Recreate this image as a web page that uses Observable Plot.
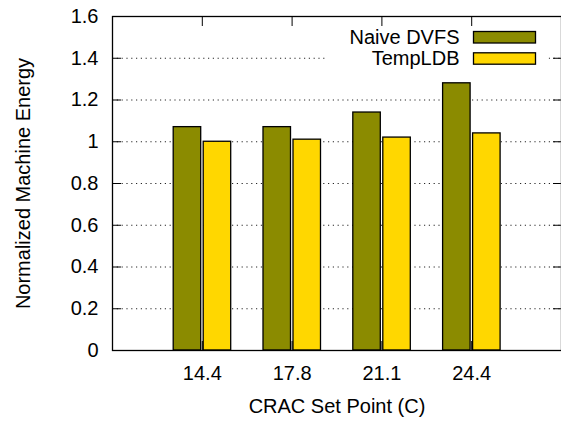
<!DOCTYPE html>
<html>
<head>
<meta charset="utf-8">
<script src="https://cdn.jsdelivr.net/npm/d3@7"></script>
<script src="https://cdn.jsdelivr.net/npm/@observablehq/plot@0.6"></script>
<style>
  html, body { margin: 0; padding: 0; background: #fff; }
  #chart svg { display: block; }
</style>
</head>
<body>
<div id="chart"></div>
<script>
// ---- data ----
const categories = ["14.4", "17.8", "21.1", "24.4"];
const seriesNames = ["Naive DVFS", "TempLDB"];
const naiveDVFS = [1.07, 1.07, 1.14, 1.28];
const tempLDB = [1.00, 1.01, 1.02, 1.04];
const yTicks = [0, 0.2, 0.4, 0.6, 0.8, 1, 1.2, 1.4, 1.6];
const yTickLabels = ["0", "0.2", "0.4", "0.6", "0.8", "1", "1.2", "1.4", "1.6"];
const gridValues = [0.2, 0.4, 0.6, 0.8, 1, 1.2, 1.4];
const xLabel = "CRAC Set Point (C)";
const yLabel = "Normalized Machine Energy";
const colors = ["#8b8b00", "#ffd700"];

const naiveData = categories.map((c, i) => ({cat: c, value: naiveDVFS[i]}));
const tempData = categories.map((c, i) => ({cat: c, value: tempLDB[i]}));

const fontSize = 20;
const fmt = d => yTickLabels[yTicks.indexOf(d)] ?? String(d);

const chart = Plot.plot({
  width: 561,
  height: 421,
  marginLeft: 112,
  marginRight: 0,
  marginTop: 16,
  marginBottom: 71,
  style: {fontFamily: "'Liberation Sans', Arial, Helvetica, sans-serif", fontSize: fontSize + "px", color: "#000", background: "#fff"},
  x: {type: "band", domain: categories, paddingInner: 0, paddingOuter: 0.5, round: false, axis: null},
  y: {domain: [0, 1.6], axis: null},
  marks: [
    // dotted grid
    Plot.ruleY(gridValues, {stroke: "#000", strokeWidth: 1, strokeDasharray: "1.2,3.6", strokeOpacity: 0.85}),
    // legend background
    Plot.frame({fill: "#fff", stroke: "none", insetLeft: 215, insetRight: 13, insetTop: 6, insetBottom: 282}),
    // inward ticks
    Plot.axisY(yTicks, {anchor: "left", tickSize: -9, fill: "none", label: null}),
    Plot.axisY(yTicks, {anchor: "right", tickSize: -9, fill: "none", label: null}),
    Plot.axisX(categories, {anchor: "top", tickSize: -9, fill: "none", label: null}),
    Plot.axisX(categories, {anchor: "bottom", tickSize: -9, fill: "none", label: null}),
    // tick labels
    Plot.axisY(yTicks, {anchor: "left", tickSize: 0, tickPadding: 14, tickFormat: fmt, label: null, fontSize}),
    Plot.axisX(categories, {anchor: "bottom", tickSize: 0, tickPadding: 15, label: null, fontSize}),
    // bars
    Plot.barY(naiveData, {x: "cat", y: "value", fill: colors[0], stroke: "#000", strokeWidth: 1.3, insetLeft: 16.3, insetRight: 46}),
    Plot.barY(tempData, {x: "cat", y: "value", fill: colors[1], stroke: "#000", strokeWidth: 1.3, insetLeft: 46.3, insetRight: 16}),
    // legend
    Plot.text([seriesNames[0]], {frameAnchor: "top-right", text: d => d, textAnchor: "end", lineAnchor: "middle", dx: -102, dy: 21, fontSize}),
    Plot.text([seriesNames[1]], {frameAnchor: "top-right", text: d => d, textAnchor: "end", lineAnchor: "middle", dx: -102, dy: 42, fontSize}),
    Plot.frame({fill: colors[0], stroke: "#000", strokeWidth: 1.3, insetLeft: 361, insetRight: 26, insetTop: 15, insetBottom: 307.5}),
    Plot.frame({fill: colors[1], stroke: "#000", strokeWidth: 1.3, insetLeft: 361, insetRight: 26, insetTop: 36.3, insetBottom: 286.3}),
    // axis titles
    Plot.text([xLabel], {frameAnchor: "bottom", text: d => d, textAnchor: "middle", lineAnchor: "middle", dy: 56, fontSize}),
    Plot.text([yLabel], {frameAnchor: "left", text: d => d, textAnchor: "middle", rotate: -90, lineAnchor: "middle", dx: -89, fontSize}),
    // frame
    Plot.frame({stroke: "#000", strokeWidth: 1.3})
  ]
});
document.getElementById("chart").appendChild(chart);
</script>
</body>
</html>
